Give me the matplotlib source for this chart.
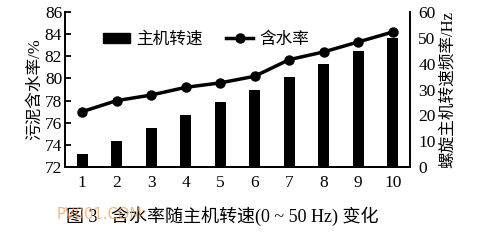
"""Moisture content vs. main screw speed (bar + line, twin axes)."""

import matplotlib

matplotlib.use("Agg")
import matplotlib.pyplot as plt
from matplotlib.lines import Line2D
from matplotlib.patches import Patch

plt.rcParams["font.family"] = ["Liberation Serif", "Noto Sans CJK SC"]

runs = [1, 2, 3, 4, 5, 6, 7, 8, 9, 10]
speed_hz = [5, 10, 15, 20, 25, 30, 35, 40, 45, 50]
moisture = [77.0, 78.0, 78.5, 79.2, 79.6, 80.2, 81.7, 82.4, 83.3, 84.2]

fig = plt.figure(figsize=(4.88, 2.42), dpi=100)
ax = fig.add_axes([0.133, 0.31, 0.707, 0.64])
ax2 = ax.twinx()

ax2.bar(runs, speed_hz, width=0.32, color="black", zorder=2)
ax.plot(runs, moisture, color="black", linewidth=2.5, marker="o",
        markersize=6.5, zorder=5)

# line on top of bars
ax.set_zorder(ax2.get_zorder() + 1)
ax.patch.set_visible(False)

ax.set_xlim(0.5, 10.5)
ax.set_ylim(72, 86)
ax.set_yticks([72, 74, 76, 78, 80, 82, 84, 86])
ax.set_xticks(runs)
ax2.set_ylim(0, 60)
ax2.set_yticks([0, 10, 20, 30, 40, 50, 60])

ax.tick_params(axis="y", direction="in", length=4, width=1.3, labelsize=12.5, pad=2)
ax.tick_params(axis="x", length=0, labelsize=12.5, pad=6)
ax2.tick_params(axis="y", length=0, labelsize=12.5, pad=6)

for a in (ax, ax2):
    a.spines["top"].set_visible(False)
    for s in ("left", "right", "bottom"):
        a.spines[s].set_linewidth(1.4)
ax.spines["right"].set_visible(False)
ax2.spines["left"].set_visible(False)

ax.set_ylabel("污泥含水率/%", fontsize=12, labelpad=1)
ax2.set_ylabel("螺旋主机转速频率/Hz", fontsize=12, rotation=90, labelpad=3)

handles = [
    Patch(facecolor="black", edgecolor="black"),
    Line2D([0], [0], color="black", linewidth=2.5, marker="o", markersize=6.5),
]
ax.legend(handles, ["主机转速", "含水率"], loc="center", bbox_to_anchor=(0.41, 0.82),
          ncol=2, frameon=False, fontsize=12, handlelength=1.6, handleheight=0.6,
          columnspacing=1.4, handletextpad=0.4)

fig.text(0.455, 0.105, "图 3   含水率随主机转速(0 ~ 50 Hz) 变化", ha="center",
         va="center", fontsize=13)
fig.text(0.117, 0.115, "PV001.COM", ha="left", va="center", fontsize=10.5,
         color="#f0a060", alpha=0.75, family=["DejaVu Sans"])

fig.savefig("out.png", dpi=100)
